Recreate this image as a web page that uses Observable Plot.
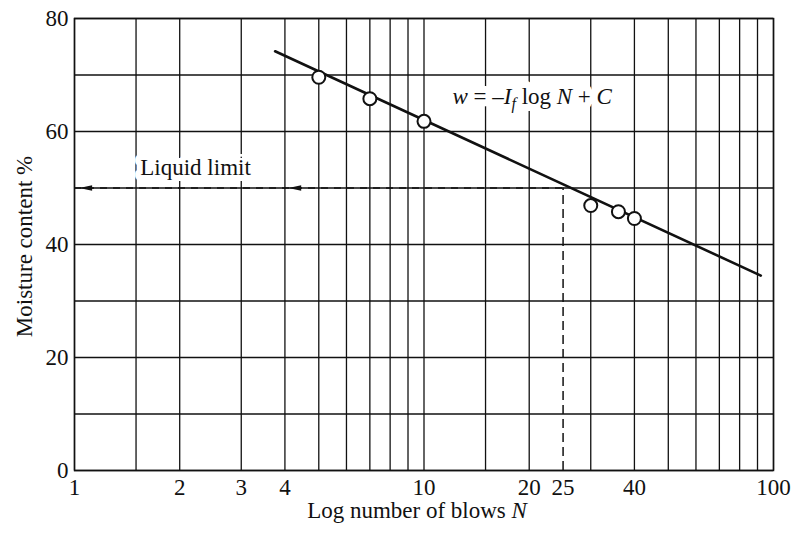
<!DOCTYPE html>
<html><head><meta charset="utf-8">
<script src="https://cdn.jsdelivr.net/npm/d3@7"></script>
<script src="https://cdn.jsdelivr.net/npm/@observablehq/plot@0.6"></script>
<style>body{margin:0;background:#fff}</style>
</head><body><div id="chart"></div>
<script>
// ---- data ----
const blowsN = [5, 7, 10, 30, 36, 40];
const moisture = [69.6, 65.8, 61.8, 46.9, 45.8, 44.6];
const fitN = [3.75, 92];
const fitW = [74.2, 34.5];
const liquidLimitW = 50;
const liquidLimitN = 25;
const arrowN = [1.077, 4.27];
const gridN = [1, 1.5, 2, 3, 4, 5, 6, 7, 8, 9, 10, 15, 20, 30, 40, 50, 60, 70, 80, 90, 100];
const gridW = [0, 10, 20, 30, 40, 50, 60, 70, 80];
const xTickLabels = [1, 2, 3, 4, 6, 8, 10, 20, 25, 40, 60, 100];
const yTickLabels = [0, 20, 40, 60, 80];
const labelLL = {text: "Liquid limit", n: 2.22, w: 53.6};
const labelEq = {text: "EQUATION", n: 12.06, w: 66.1};
const xTitle = "Log number of blows N";
const yTitle = "Moisture content %";

// ---- build ----
const font = "'Liberation Serif', 'Times New Roman', serif";
const ink = "#111";
const FS = 23;
const points = blowsN.map((n, i) => ({n, w: moisture[i]}));
const fit = fitN.map((n, i) => ({n, w: fitW[i]}));
const arrowHead = {
  draw(ctx, size) {
    const l = Math.sqrt(size);
    ctx.moveTo(-l * 0.6, 0);
    ctx.lineTo(l * 0.6, -l * 0.25);
    ctx.lineTo(l * 0.6, l * 0.25);
    ctx.closePath();
  }
};

const chart = Plot.plot({
  width: 792, height: 535,
  marginLeft: 74, marginRight: 19, marginTop: 18, marginBottom: 65,
  style: {fontFamily: font, fontSize: FS + "px", color: ink, background: "#fff"},
  x: {type: "log", domain: [1, 100]},
  y: {domain: [0, 80]},
  marks: [
    Plot.ruleX(gridN, {stroke: ink, strokeWidth: 1.3}),
    Plot.ruleY(gridW, {stroke: ink, strokeWidth: 1.3}),
    Plot.frame({stroke: ink, strokeWidth: 1.5}),
    Plot.axisX({ticks: xTickLabels, tickSize: 0, tickPadding: 8, tickFormat: d => String(d), label: null, fontSize: FS}),
    Plot.axisY({ticks: yTickLabels, tickSize: 0, tickPadding: 6, label: null, fontSize: FS}),
    // white halos (background boxes) for annotation texts
    Plot.text([labelLL], {x: "n", y: "w", text: "text", fill: "white", stroke: "white", strokeWidth: 12, strokeLinejoin: "round", fontSize: FS, lineAnchor: "middle"}),
    Plot.text([labelEq], {x: "n", y: "w", text: "text", fill: "white", stroke: "white", strokeWidth: 14, strokeLinejoin: "round", textAnchor: "start", fontSize: FS, lineAnchor: "middle"}),
    Plot.text([labelLL], {x: "n", y: "w", text: "text", fill: ink, fontSize: FS, lineAnchor: "middle"}),
    Plot.text([labelEq], {x: "n", y: "w", text: "text", fill: ink, textAnchor: "start", fontSize: FS, lineAnchor: "middle"}),
    Plot.ruleY([liquidLimitW], {x1: 1, x2: liquidLimitN, stroke: ink, strokeWidth: 1.4, strokeDasharray: "7,6"}),
    Plot.ruleX([liquidLimitN], {y1: 0, y2: liquidLimitW, stroke: ink, strokeWidth: 1.5, strokeDasharray: "9,5"}),
    Plot.dot(arrowN, {x: d => d, y: () => liquidLimitW, symbol: arrowHead, r: 6, fill: ink, stroke: null}),
    Plot.line(fit, {x: "n", y: "w", stroke: ink, strokeWidth: 2.6}),
    Plot.dot(points, {x: "n", y: "w", r: 6.5, fill: "white", stroke: ink, strokeWidth: 2}),
    Plot.text([xTitle], {frameAnchor: "bottom", textAnchor: "middle", lineAnchor: "middle", dy: 40, dx: -7, fill: ink, fontSize: FS}),
    Plot.text([yTitle], {frameAnchor: "left", textAnchor: "middle", lineAnchor: "middle", rotate: -90, dx: -50, dy: 2, fill: ink, fontSize: FS})
  ]
});
document.getElementById("chart").appendChild(chart);

// rich text (italics, subscript)
const NS = "http://www.w3.org/2000/svg";
function rich(el, parts) {
  el.textContent = "";
  for (const [t, o] of parts) {
    const ts = document.createElementNS(NS, "tspan");
    ts.textContent = t;
    if (o && o.i) ts.setAttribute("font-style", "italic");
    if (o && o.dy) ts.setAttribute("dy", o.dy);
    if (o && o.fs) ts.setAttribute("font-size", o.fs);
    el.appendChild(ts);
  }
}
d3.select(chart).selectAll("text").each(function() {
  const s = this.textContent;
  if (s === "EQUATION") {
    rich(this, [["w", {i: 1}], [" = –", {}], ["I", {i: 1}], ["f", {i: 1, dy: 5, fs: "16px"}], [" log ", {dy: -5}], ["N", {i: 1}], [" + ", {}], ["C", {i: 1}]]);
  } else if (s === xTitle) {
    rich(this, [["Log number of blows ", {}], ["N", {i: 1}]]);
  }
});
</script>
</body></html>
